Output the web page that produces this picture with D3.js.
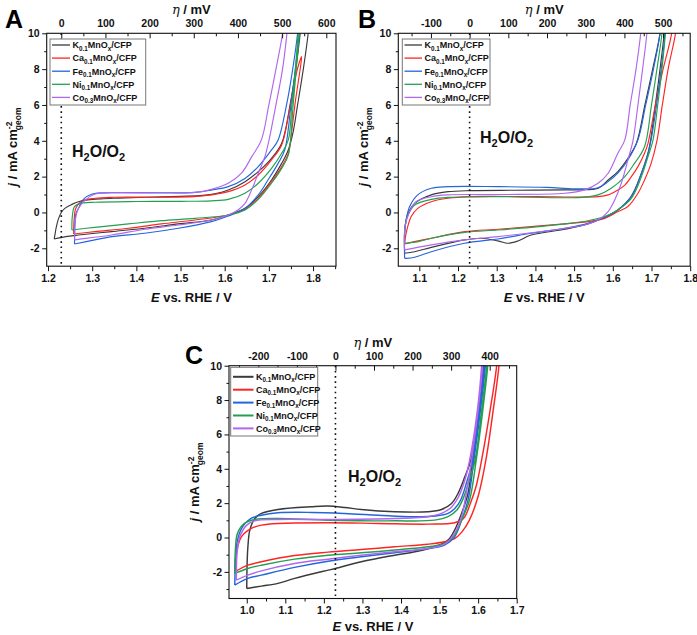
<!DOCTYPE html>
<html><head><meta charset="utf-8">
<script src="https://cdn.jsdelivr.net/npm/d3@7"></script>
<style>
body{margin:0;background:#fff;}
text{font-family:Arial,"Liberation Sans",Helvetica,sans-serif;}
</style></head><body>
<svg id="c" width="697" height="635" xmlns="http://www.w3.org/2000/svg"></svg>
<script>
// ---------- DATA ----------
const seriesNames = [["K","0.1"],["Ca","0.1"],["Fe","0.1"],["Ni","0.1"],["Co","0.3"]];

const yTicks = [-2,0,2,4,6,8,10];
const xTicksA = [1.2,1.3,1.4,1.5,1.6,1.7,1.8];
const etaTicksA = [0,100,200,300,400,500,600];
const xTicksB = [1.1,1.2,1.3,1.4,1.5,1.6,1.7,1.8];
const etaTicksB = [-100,0,100,200,300,400,500];
const xTicksC = [1.0,1.1,1.2,1.3,1.4,1.5,1.6,1.7];
const etaTicksC = [-200,-100,0,100,200,300,400];

// Panel A loops: [E (V vs RHE), j (mA cm^-2)] anodic branch then cathodic branch
const A_K = [[1.214,-1.48],[1.216,-1.2],[1.218,-0.9],[1.223,-0.4],[1.230,0.0],[1.238,0.23],[1.254,0.45],[1.269,0.6],[1.29,0.7],[1.32,0.76],[1.36,0.8],[1.42,0.85],[1.50,0.9],[1.55,0.95],[1.58,1.05],[1.608,1.25],[1.646,1.72],[1.676,2.28],[1.706,3.02],[1.729,3.86],[1.748,6],[1.761,8],[1.771,10],[1.775,11],
  [1.792,11],[1.789,10],[1.778,8],[1.765,6],[1.755,4.5],[1.744,3.49],[1.729,2.74],[1.706,1.81],[1.676,0.88],[1.646,0.23],[1.608,-0.14],[1.57,-0.42],[1.495,-0.64],[1.419,-0.88],[1.344,-1.07],[1.269,-1.26],[1.24,-1.35],[1.214,-1.48]];
const A_Ca = [[1.258,-1.2],[1.259,-0.42],[1.263,0.23],[1.275,0.61],[1.306,0.79],[1.35,0.85],[1.45,0.85],[1.53,0.88],[1.57,0.98],[1.608,1.16],[1.646,1.53],[1.676,2.09],[1.706,2.93],[1.729,3.77],[1.745,5.5],[1.758,7.3],[1.768,8.3],[1.774,8.7],
  [1.772,8.2],[1.766,7.2],[1.76,6.2],[1.752,4.6],[1.744,3.3],[1.729,2.56],[1.706,1.72],[1.676,0.79],[1.646,0.18],[1.608,-0.14],[1.533,-0.42],[1.457,-0.64],[1.382,-0.88],[1.306,-1.07],[1.258,-1.2]];
const A_Fe = [[1.26,-1.76],[1.261,-0.6],[1.263,-0.1],[1.269,0.23],[1.28,0.73],[1.30,1.03],[1.344,1.1],[1.45,1.1],[1.533,1.12],[1.57,1.25],[1.608,1.44],[1.646,1.9],[1.676,2.56],[1.706,3.49],[1.721,4.05],[1.74,6],[1.754,8],[1.765,10],[1.768,11],
  [1.772,11],[1.769,10],[1.76,8],[1.75,6],[1.736,3.49],[1.721,2.74],[1.698,1.81],[1.676,0.98],[1.646,0.23],[1.608,-0.2],[1.57,-0.51],[1.495,-0.88],[1.419,-1.16],[1.344,-1.35],[1.306,-1.53],[1.26,-1.76]];
const A_Ni = [[1.254,-0.98],[1.255,-0.23],[1.26,0.33],[1.275,0.51],[1.306,0.57],[1.4,0.61],[1.5,0.62],[1.57,0.65],[1.608,0.73],[1.646,1.07],[1.676,1.63],[1.706,2.46],[1.729,3.3],[1.744,4.05],[1.752,6],[1.76,8],[1.766,10],[1.768,11],
  [1.771,11],[1.769,10],[1.762,8],[1.755,6],[1.744,3.2],[1.729,2.46],[1.706,1.63],[1.676,0.73],[1.646,0.14],[1.608,-0.14],[1.533,-0.33],[1.457,-0.46],[1.382,-0.64],[1.306,-0.83],[1.254,-0.98]];
const A_Co = [[1.26,-1.53],[1.262,-0.4],[1.269,0.23],[1.285,0.7],[1.306,1.03],[1.344,1.1],[1.533,1.12],[1.57,1.29],[1.608,1.63],[1.638,2.19],[1.661,3.1],[1.683,4.05],[1.70,6],[1.716,8],[1.731,10],[1.734,11],
  [1.745,11],[1.741,10],[1.731,8],[1.716,6],[1.70,4.0],[1.691,3.12],[1.676,2.19],[1.661,1.26],[1.646,0.51],[1.63,0.14],[1.608,-0.14],[1.57,-0.42],[1.495,-0.7],[1.419,-0.94],[1.344,-1.26],[1.269,-1.5],[1.26,-1.53]];

// Panel B loops
const B_K = [[1.062,-2.28],[1.063,-0.8],[1.071,-0.05],[1.088,0.51],[1.131,0.98],[1.174,1.16],[1.234,1.22],[1.35,1.24],[1.476,1.26],[1.53,1.27],[1.562,1.35],[1.588,1.81],[1.613,2.28],[1.639,3.02],[1.661,3.86],[1.683,6],[1.703,8],[1.722,10],[1.725,11],
  [1.737,11],[1.733,10],[1.722,8],[1.71,6],[1.693,3.49],[1.674,2.19],[1.648,0.92],[1.613,0.14],[1.579,-0.27],[1.536,-0.64],[1.476,-0.94],[1.389,-1.26],[1.355,-1.59],[1.329,-1.72],[1.303,-1.59],[1.26,-1.44],[1.217,-1.53],[1.131,-1.95],[1.088,-2.19],[1.062,-2.28]];
const B_Ca = [[1.062,-1.76],[1.066,-1.16],[1.079,-0.23],[1.096,0.23],[1.131,0.6],[1.174,0.79],[1.234,0.88],[1.4,0.88],[1.5,0.86],[1.562,0.88],[1.588,0.98],[1.613,1.26],[1.631,1.53],[1.648,2.0],[1.665,2.56],[1.682,3.3],[1.691,3.86],[1.71,6],[1.73,8],[1.752,10],[1.755,11],
  [1.766,11],[1.762,10],[1.743,8],[1.728,6],[1.714,4.0],[1.699,2.74],[1.682,1.81],[1.665,1.07],[1.639,0.33],[1.613,0.05],[1.579,-0.33],[1.536,-0.51],[1.476,-0.64],[1.389,-0.79],[1.303,-0.94],[1.217,-1.07],[1.131,-1.44],[1.088,-1.63],[1.062,-1.76]];
const B_Fe = [[1.062,-2.56],[1.062,-1.16],[1.066,-0.42],[1.075,0.33],[1.096,0.98],[1.131,1.35],[1.174,1.44],[1.303,1.44],[1.43,1.4],[1.5,1.32],[1.562,1.38],[1.588,1.72],[1.613,2.19],[1.639,2.93],[1.665,4.05],[1.685,6],[1.705,8],[1.722,10],[1.724,11],
  [1.738,11],[1.735,10],[1.725,8],[1.713,6],[1.699,4.05],[1.691,3.3],[1.674,2.19],[1.648,0.88],[1.613,0.14],[1.579,-0.27],[1.536,-0.6],[1.476,-0.88],[1.389,-1.16],[1.303,-1.48],[1.217,-1.72],[1.131,-2.19],[1.088,-2.5],[1.066,-2.56],[1.062,-2.56]];
const B_Ni = [[1.062,-1.72],[1.063,-0.8],[1.071,-0.14],[1.088,0.42],[1.131,0.73],[1.174,0.84],[1.303,0.88],[1.519,0.84],[1.562,0.98],[1.596,1.35],[1.631,2.0],[1.656,2.74],[1.682,3.67],[1.70,6],[1.714,8],[1.727,10],[1.729,11],
  [1.739,11],[1.736,10],[1.727,8],[1.716,6],[1.704,4.05],[1.691,3.12],[1.674,2.0],[1.648,0.79],[1.613,0.14],[1.579,-0.23],[1.536,-0.46],[1.476,-0.64],[1.389,-0.83],[1.303,-0.98],[1.217,-1.11],[1.131,-1.44],[1.097,-1.63],[1.062,-1.72]];
const B_Co = [[1.062,-2.09],[1.063,-0.8],[1.075,0.05],[1.092,0.6],[1.131,0.88],[1.174,0.98],[1.303,1.0],[1.476,1.07],[1.527,1.26],[1.562,1.63],[1.588,2.19],[1.613,3.3],[1.631,4.05],[1.645,6],[1.66,8],[1.672,10],[1.674,11],
  [1.69,11],[1.688,10],[1.677,8],[1.665,6],[1.652,4.0],[1.639,2.93],[1.622,1.63],[1.605,0.7],[1.588,0.05],[1.562,-0.42],[1.527,-0.7],[1.476,-0.88],[1.389,-1.13],[1.303,-1.35],[1.217,-1.53],[1.131,-1.81],[1.062,-2.09]];

// Panel C loops
const C_K = [[1.0,-2.97],[1.001,-1.5],[1.003,-0.54],[1.008,0.43],[1.021,1.11],[1.038,1.4],[1.081,1.63],[1.168,1.79],[1.21,1.83],[1.254,1.75],[1.297,1.63],[1.384,1.5],[1.47,1.5],[1.505,1.63],[1.531,1.98],[1.548,2.57],[1.565,3.5],[1.582,4.6],[1.60,7.4],[1.614,10],[1.616,11],
  [1.62,11],[1.617,10],[1.603,7.4],[1.586,4.6],[1.574,2.6],[1.557,1.4],[1.539,0.43],[1.522,-0.15],[1.488,-0.54],[1.436,-0.83],[1.384,-1.03],[1.297,-1.41],[1.23,-1.8],[1.211,-1.9],[1.124,-2.38],[1.081,-2.67],[1.038,-2.83],[1.0,-2.97]];
const C_Ca = [[0.969,-2.0],[0.973,-0.93],[0.986,0.04],[1.012,0.53],[1.038,0.72],[1.081,0.82],[1.211,0.86],[1.341,0.82],[1.47,0.78],[1.539,0.86],[1.562,1.1],[1.58,2.0],[1.595,3.0],[1.609,4.5],[1.631,7.4],[1.648,10],[1.65,11],
  [1.656,11],[1.654,10],[1.639,7.4],[1.62,4.5],[1.60,2.4],[1.577,1.0],[1.557,0.3],[1.539,-0.06],[1.513,-0.25],[1.47,-0.39],[1.384,-0.54],[1.297,-0.7],[1.211,-0.85],[1.124,-1.05],[1.038,-1.41],[1.003,-1.61],[0.969,-2.0]];
const C_Fe = [[0.969,-2.77],[0.971,-1.3],[0.976,-0.15],[0.989,0.62],[1.011,1.11],[1.038,1.3],[1.081,1.44],[1.168,1.46],[1.254,1.4],[1.341,1.3],[1.43,1.21],[1.49,1.25],[1.522,1.4],[1.54,1.7],[1.555,2.2],[1.57,3.2],[1.586,4.5],[1.603,7.4],[1.616,10],[1.618,11],
  [1.622,11],[1.619,10],[1.606,7.4],[1.589,4.5],[1.574,2.2],[1.557,1.0],[1.539,0.04],[1.513,-0.44],[1.47,-0.64],[1.384,-0.89],[1.297,-1.12],[1.211,-1.38],[1.124,-1.74],[1.038,-2.19],[1.003,-2.38],[0.969,-2.77]];
const C_Ni = [[0.969,-2.09],[0.971,-0.54],[0.976,0.24],[0.994,0.82],[1.021,1.05],[1.081,1.11],[1.211,1.01],[1.384,0.97],[1.487,1.01],[1.522,1.21],[1.545,1.6],[1.56,2.2],[1.575,3.2],[1.592,4.5],[1.609,7.4],[1.622,10],[1.624,11],
  [1.628,11],[1.625,10],[1.612,7.4],[1.595,4.5],[1.578,2.2],[1.557,1.0],[1.539,0.14],[1.513,-0.35],[1.47,-0.54],[1.384,-0.73],[1.297,-0.89],[1.211,-1.03],[1.124,-1.26],[1.038,-1.61],[1.003,-1.8],[0.969,-2.09]];
const C_Co = [[0.973,-2.48],[0.975,-0.9],[0.982,0.04],[1.0,0.72],[1.021,0.97],[1.081,1.05],[1.211,1.05],[1.384,1.11],[1.47,1.21],[1.505,1.4],[1.53,1.75],[1.55,2.4],[1.565,3.3],[1.578,4.5],[1.598,7.4],[1.609,10],[1.611,11],
  [1.615,11],[1.612,10],[1.60,7.4],[1.583,4.5],[1.568,2.4],[1.557,1.21],[1.539,0.24],[1.513,-0.39],[1.47,-0.64],[1.384,-0.83],[1.297,-1.03],[1.211,-1.26],[1.124,-1.51],[1.038,-1.94],[1.003,-2.19],[0.973,-2.48]];

// ---------- STYLE / LAYOUT ----------
const colors = ["#3a3a3a","#ff2424","#2266dd","#22a050","#b066ee"];
const E0 = 1.23;

const panels = [
  {name:"A", curves:[A_K,A_Ca,A_Fe,A_Ni,A_Co], xDomain:[1.197,1.852], yDomain:[-3,10],
   left:46.7, right:336, top:33.3, bottom:266.2, xTicks:xTicksA, etaTicks:etaTicksA, yMinor:[-1,1,3,5,7,9],
   letter:[5,28], h2o:[72,157], legend:{x:50,y:39,w:95.7,h:66,lx0:52,lx1:70,tx:72.5,ry:45,step:13.1,lw:1.3}, lw:1.15,
   yTitleY:147, bTitleDy:36},
  {name:"B", curves:[B_K,B_Ca,B_Fe,B_Ni,B_Co], xDomain:[1.0457,1.8], yDomain:[-3,10],
   left:398.3, right:690.2, top:33.3, bottom:266.2, xTicks:xTicksB, etaTicks:etaTicksB, yMinor:[-1,1,3,5,7,9],
   letter:[358,28], h2o:[480,143], legend:{x:402.3,y:39,w:87.7,h:66,lx0:404.5,lx1:422,tx:424.5,ry:45,step:13.1,lw:1.3}, lw:1.15,
   yTitleY:147, bTitleDy:36},
  {name:"C", curves:[C_K,C_Ca,C_Fe,C_Ni,C_Co], xDomain:[0.954,1.7], yDomain:[-3.55,10],
   left:229, right:516.7, top:365.7, bottom:598.5, xTicks:xTicksC, etaTicks:etaTicksC, yMinor:[-3,-1,1,3,5,7,9],
   letter:[185,364], h2o:[348,482], legend:{x:230.7,y:367.3,w:87,h:68.7,lx0:233,lx1:253.5,tx:256,ry:376.8,step:12.9,lw:2}, lw:1.45,
   yTitleY:482, bTitleDy:32}
];

const svg = d3.select("#c");
const defs = svg.append("defs");
const TICKFONT = 10.5;

function midpoints(arr){ const m=[]; for(let i=0;i<arr.length-1;i++) m.push((arr[i]+arr[i+1])/2); return m; }

function drawPanel(cfg){
  const x = d3.scaleLinear().domain(cfg.xDomain).range([cfg.left, cfg.right]);
  const y = d3.scaleLinear().domain(cfg.yDomain).range([cfg.bottom, cfg.top]);
  const eta = d3.scaleLinear().domain(cfg.xDomain.map(e => (e - E0) * 1000)).range([cfg.left, cfg.right]);
  const g = svg.append("g");
  const id = "clip" + cfg.name;
  defs.append("clipPath").attr("id", id).append("rect")
    .attr("x", cfg.left).attr("y", cfg.top).attr("width", cfg.right - cfg.left).attr("height", cfg.bottom - cfg.top);

  // curves
  const line = d3.line().x(d => x(d[0])).y(d => y(d[1])).curve(d3.curveCatmullRom.alpha(0.5));
  const cg = g.append("g").attr("clip-path", `url(#${id})`);
  cfg.curves.forEach((c, i) => {
    cg.append("path").attr("d", line(c)).attr("fill", "none").attr("stroke", colors[i])
      .attr("stroke-width", cfg.lw).attr("stroke-linejoin", "round");
  });

  // dotted reference line at 1.23 V
  g.append("line").attr("x1", x(E0)).attr("x2", x(E0)).attr("y1", cfg.top).attr("y2", cfg.bottom)
    .attr("stroke", "#111").attr("stroke-width", 1.6).attr("stroke-dasharray", "1.6,3.6");

  // axes
  const styleAxis = sel => {
    sel.select(".domain").remove();
    sel.selectAll("text").attr("font-size", TICKFONT).attr("font-weight", "bold")
      .attr("font-family", "Arial, 'Liberation Sans', sans-serif").attr("fill", "#111");
    sel.selectAll("line").attr("stroke", "#111").attr("stroke-width", 1);
  };
  g.append("g").attr("transform", `translate(0,${cfg.bottom})`)
    .call(d3.axisBottom(x).tickValues(cfg.xTicks).tickSize(5).tickPadding(3).tickFormat(d => d.toFixed(1))).call(styleAxis);
  g.append("g").attr("transform", `translate(0,${cfg.bottom})`)
    .call(d3.axisBottom(x).tickValues(midpoints(cfg.xTicks).concat([cfg.xTicks[cfg.xTicks.length-1]+0.05]).filter(v => v <= cfg.xDomain[1])).tickSize(3).tickFormat(""))
    .call(styleAxis);
  g.append("g").attr("transform", `translate(${cfg.left},0)`)
    .call(d3.axisLeft(y).tickValues(yTicks).tickSize(4.5).tickPadding(2.5).tickFormat(d => String(d))).call(styleAxis);
  g.append("g").attr("transform", `translate(${cfg.left},0)`)
    .call(d3.axisLeft(y).tickValues(cfg.yMinor).tickSize(2.5).tickFormat("")).call(styleAxis);
  g.append("g").attr("transform", `translate(0,${cfg.top})`)
    .call(d3.axisTop(eta).tickValues(cfg.etaTicks).tickSize(-5).tickPadding(6).tickFormat(d => String(d))).call(styleAxis);
  const etaMinor = midpoints(cfg.etaTicks).concat([cfg.etaTicks[0]-50, cfg.etaTicks[cfg.etaTicks.length-1]+50])
    .filter(v => v >= eta.domain()[0] && v <= eta.domain()[1]);
  g.append("g").attr("transform", `translate(0,${cfg.top})`)
    .call(d3.axisTop(eta).tickValues(etaMinor).tickSize(-3).tickFormat("")).call(styleAxis);

  // frame
  g.append("rect").attr("x", cfg.left).attr("y", cfg.top).attr("width", cfg.right - cfg.left)
    .attr("height", cfg.bottom - cfg.top).attr("fill", "none").attr("stroke", "#111").attr("stroke-width", 1.1);

  const cx = (cfg.left + cfg.right) / 2;
  // top title
  const tt = g.append("text").attr("x", cx).attr("y", cfg.top - 19).attr("text-anchor", "middle")
    .attr("font-size", 13).attr("font-weight", "bold").attr("fill", "#111");
  tt.append("tspan").attr("font-style", "italic").attr("font-weight", "normal").attr("font-family", "'DejaVu Serif', serif").text("η");
  tt.append("tspan").text(" / mV");
  // bottom title
  const bt = g.append("text").attr("x", cx).attr("y", cfg.bottom + cfg.bTitleDy).attr("text-anchor", "middle")
    .attr("font-size", 13).attr("font-weight", "bold").attr("fill", "#111");
  bt.append("tspan").attr("font-style", "italic").text("E");
  bt.append("tspan").text(" vs. RHE / V");
  // y title
  const yt = g.append("text").attr("transform", `translate(${cfg.left - 30},${cfg.yTitleY}) rotate(-90)`)
    .attr("text-anchor", "middle").attr("font-size", 13).attr("font-weight", "bold").attr("fill", "#111");
  yt.append("tspan").attr("font-style", "italic").text("j");
  yt.append("tspan").text(" / mA cm");
  yt.append("tspan").attr("font-size", 8.5).attr("dy", -5).text("-2");
  yt.append("tspan").attr("font-size", 8.5).attr("dx", -8.5).attr("dy", 9).text("geom");

  // panel letter
  g.append("text").attr("x", cfg.letter[0]).attr("y", cfg.letter[1]).attr("font-size", 25)
    .attr("font-weight", "bold").attr("fill", "#000").text(cfg.name);

  // H2O/O2 label
  const h = g.append("text").attr("x", cfg.h2o[0]).attr("y", cfg.h2o[1]).attr("font-size", 16)
    .attr("font-weight", "bold").attr("fill", "#111");
  h.append("tspan").text("H");
  h.append("tspan").attr("font-size", 11).attr("dy", 4).text("2");
  h.append("tspan").attr("dy", -4).text("O/O");
  h.append("tspan").attr("font-size", 11).attr("dy", 4).text("2");

  // legend
  const L = cfg.legend;
  const lg = g.append("g");
  lg.append("rect").attr("x", L.x).attr("y", L.y).attr("width", L.w).attr("height", L.h)
    .attr("fill", "#fff").attr("stroke", "#777").attr("stroke-width", 1);
  seriesNames.forEach((s, i) => {
    const yy = L.ry + i * L.step;
    lg.append("line").attr("x1", L.lx0).attr("x2", L.lx1).attr("y1", yy).attr("y2", yy)
      .attr("stroke", colors[i]).attr("stroke-width", L.lw);
    const t = lg.append("text").attr("x", L.tx).attr("y", yy + 3.3).attr("font-size", 9)
      .attr("font-weight", "bold").attr("fill", "#111");
    t.append("tspan").text(s[0]);
    t.append("tspan").attr("font-size", 6.3).attr("dy", 2.2).text(s[1]);
    t.append("tspan").attr("dy", -2.2).text("MnO");
    t.append("tspan").attr("font-size", 6.3).attr("dy", 2.2).text("x");
    t.append("tspan").attr("dy", -2.2).text("/CFP");
  });
}

panels.forEach(drawPanel);
</script>
</body></html>
